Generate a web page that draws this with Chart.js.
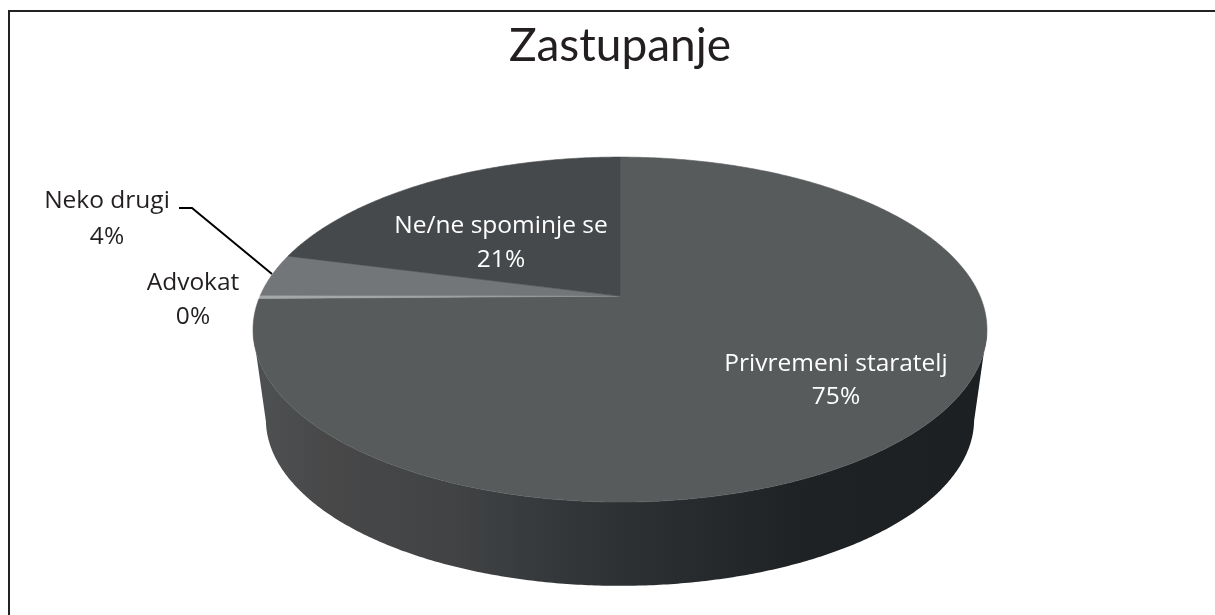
<!DOCTYPE html>
<html>
<head>
<meta charset="utf-8">
<title>Zastupanje</title>
<script src="https://cdn.jsdelivr.net/npm/chart.js@4"></script>
<style>
  html, body { margin: 0; padding: 0; background: #fff; }
  canvas { display: block; }
</style>
</head>
<body>
<canvas id="chart" width="1215" height="615"></canvas>
<script>
const categories = ['Privremeni staratelj', 'Advokat', 'Neko drugi', 'Ne/ne spominje se'];
const shares     = [75, 0.3, 4, 21];
const sliceColors = ['#585b5c', '#a5a8a8', '#737678', '#46494b'];

// label anchors: centre x, first line y, second line y, text colour
const labelSpots = [
  [836, 364, 397, '#ffffff'],
  [193, 283, 317, '#231f20'],
  [107, 201, 237, '#231f20'],
  [501, 226, 260, '#ffffff'],
];

// perspective of the tilted disc
const RX = 360, RY = 166, TILT = 0.194;
const WALL_SHRINK = 0.965, WALL_DROP = 91;

function project(el, t, shrink, drop) {
  const d = 1 - TILT * Math.sin(t);
  return [
    el.x + shrink * RX * Math.cos(t) / d,
    el.y + shrink * RY * Math.sin(t) / d + drop,
  ];
}

function rimPoints(el, shrink, drop) {
  const pts = [];
  const steps = Math.max(2, Math.ceil((el.endAngle - el.startAngle) * 120));
  for (let i = 0; i <= steps; i++) {
    const t = el.startAngle + (el.endAngle - el.startAngle) * i / steps;
    pts.push({ t, p: project(el, t, shrink, drop) });
  }
  return pts;
}

// the library works out the angles, this only changes how a slice is painted
Chart.ArcElement.prototype.draw = function (ctx) {
  ctx.save();

  // side wall, front part of the rim only
  const top = rimPoints(this, 1, 0).filter(r => Math.sin(r.t) >= 0.2);
  if (top.length > 1) {
    const bottom = rimPoints(this, WALL_SHRINK, WALL_DROP).filter(r => Math.sin(r.t) >= 0.2);
    const grad = ctx.createLinearGradient(253, 0, 988, 0);
    grad.addColorStop(0,    '#4e5152');
    grad.addColorStop(0.1,  '#484849');
    grad.addColorStop(0.27, '#414345');
    grad.addColorStop(0.5,  '#2d3133');
    grad.addColorStop(0.75, '#1e2224');
    grad.addColorStop(1,    '#1c2023');
    ctx.beginPath();
    top.forEach((r, i) => i ? ctx.lineTo(r.p[0], r.p[1]) : ctx.moveTo(r.p[0], r.p[1]));
    bottom.reverse().forEach(r => ctx.lineTo(r.p[0], r.p[1]));
    ctx.closePath();
    ctx.fillStyle = grad;
    ctx.fill();
  }

  // top face
  ctx.beginPath();
  ctx.moveTo(this.x, this.y);
  rimPoints(this, 1, 0).forEach(r => ctx.lineTo(r.p[0], r.p[1]));
  ctx.closePath();
  ctx.fillStyle = this.options.backgroundColor;
  ctx.strokeStyle = this.options.backgroundColor;
  ctx.lineWidth = 0.6;
  ctx.fill();
  ctx.stroke();
  ctx.restore();
};

const framePlugin = {
  id: 'frame',
  beforeDraw(chart) {
    const ctx = chart.ctx;
    ctx.save();
    ctx.strokeStyle = '#222222';
    ctx.lineWidth = 2;
    ctx.beginPath();
    ctx.moveTo(9, 615);
    ctx.lineTo(9, 11);
    ctx.lineTo(1215, 11);
    ctx.stroke();
    ctx.restore();
  },
};

const labelPlugin = {
  id: 'sliceLabels',
  afterDatasetsDraw(chart) {
    const ctx = chart.ctx;
    const total = shares.reduce((a, b) => a + b, 0);
    ctx.save();
    ctx.font = '24.5px "Open Sans"';
    ctx.textAlign = 'center';
    ctx.textBaseline = 'middle';
    categories.forEach((name, i) => {
      const [x, y1, y2, color] = labelSpots[i];
      ctx.fillStyle = color;
      ctx.fillText(name, x, y1);
      ctx.fillText(Math.round(shares[i] / total * 100) + '%', x, y2);
    });

    // leader line for Neko drugi
    ctx.strokeStyle = '#000000';
    ctx.lineWidth = 2;
    ctx.beginPath();
    ctx.moveTo(179, 208);
    ctx.lineTo(192, 208);
    ctx.lineTo(272, 274);
    ctx.stroke();
    ctx.restore();
  },
};

new Chart(document.getElementById('chart'), {
  type: 'pie',
  data: {
    labels: categories,
    datasets: [{
      data: shares,
      backgroundColor: sliceColors,
      borderWidth: 0,
    }],
  },
  options: {
    responsive: false,
    animation: false,
    events: [],
    layout: { padding: { left: 25, bottom: 113 } },
    plugins: {
      legend: { display: false },
      tooltip: { enabled: false },
      title: {
        display: true,
        text: 'Zastupanje',
        color: '#231f20',
        font: { family: 'Lato', size: 46, weight: 'normal', lineHeight: 1.2 },
        padding: { top: 19, bottom: 16 },
      },
    },
  },
  plugins: [framePlugin, labelPlugin],
});
</script>
</body>
</html>
